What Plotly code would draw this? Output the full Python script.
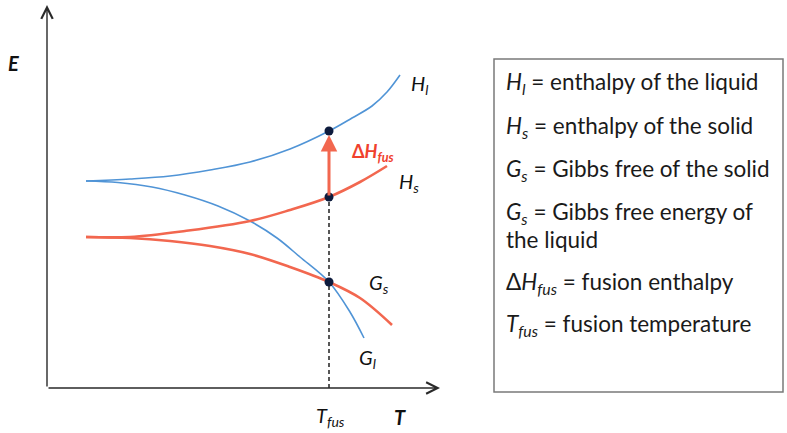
import plotly.graph_objects as go

# ---- data (schematic; T and E in arbitrary units) ----
T_hl = [39, 83, 123, 163, 203, 243, 282, 305, 325, 340, 353]
E_hl = [207, 209, 212, 218, 226, 239, 257, 270, 282, 296, 313]

T_gl = [39, 71, 105, 138, 171, 203, 230, 253, 282, 303, 317]
E_gl = [207, 205.5, 201, 193, 182, 167, 150, 131, 106, 76, 50]

T_hs = [39, 83, 138, 203, 243, 282, 313, 340]
E_hs = [151, 151, 157, 167, 178, 191, 206, 222]

T_gs = [39, 83, 123, 163, 203, 243, 282, 313, 345]
E_gs = [151, 150, 147, 142, 134, 121, 106, 90, 63]

T_fus = 282
E_hl_fus = 257
E_hs_fus = 191
E_g_fus = 106

legend_lines = [
    "<i>H<sub>l</sub></i> = enthalpy of the liquid",
    "<i>H<sub>s</sub></i> = enthalpy of the solid",
    "<i>G<sub>s</sub></i> = Gibbs free of the solid",
    "<i>G<sub>s</sub></i> = Gibbs free energy of",
    "the liquid",
    "\u0394<i>H<sub>fus</sub></i> = fusion enthalpy",
    "<i>T<sub>fus</sub></i> = fusion temperature",
]
legend_y_px = [83, 127, 170, 213, 240, 283, 325]

BLUE = "#5094d6"
RED = "#f2674f"
DOT = "#0d1b3d"
FONT = "Lato"

fig = go.Figure()

for tx, ey, col, w in [(T_hl, E_hl, BLUE, 1.6), (T_gl, E_gl, BLUE, 1.6),
                       (T_hs, E_hs, RED, 2.6), (T_gs, E_gs, RED, 2.6)]:
    fig.add_trace(go.Scatter(x=tx, y=ey, mode="lines",
                             line=dict(color=col, width=w, shape="spline", smoothing=1.0)))

# dashed vertical at T_fus
fig.add_trace(go.Scatter(x=[T_fus, T_fus], y=[0, E_hs_fus], mode="lines",
                         line=dict(color="#111111", width=1.4, dash="4px,3px")))

# dots
fig.add_trace(go.Scatter(x=[T_fus] * 3, y=[E_hl_fus, E_hs_fus, E_g_fus], mode="markers",
                         marker=dict(color=DOT, size=9)))

annotations = []
# axes arrows
annotations.append(dict(x=0, y=383, ax=0, ay=0, xref="x", yref="y", axref="x", ayref="y",
                        text="", showarrow=True, arrowhead=5, arrowsize=1.6, arrowwidth=1.4,
                        arrowcolor="#2a2a2a", standoff=0))
annotations.append(dict(x=393, y=0, ax=0, ay=0, xref="x", yref="y", axref="x", ayref="y",
                        text="", showarrow=True, arrowhead=5, arrowsize=1.6, arrowwidth=1.4,
                        arrowcolor="#2a2a2a", standoff=0))
# delta H arrow
annotations.append(dict(x=T_fus, y=E_hl_fus, ax=T_fus, ay=E_hs_fus, xref="x", yref="y",
                        axref="x", ayref="y", text="", showarrow=True, arrowhead=2,
                        arrowsize=1.1, arrowwidth=3, arrowcolor=RED, standoff=4))


def lab(px, py, text, color="#111111", size=20):
    annotations.append(dict(x=px - 47, y=388 - py, xref="x", yref="y", text=text,
                            showarrow=False, font=dict(family=FONT, size=size, color=color)))


lab(419, 84, "<i>H<sub>l</sub></i>")
lab(373, 152, "<b>\u0394<i>H<sub>fus</sub></i></b>", color="#f0412d", size=18)
lab(409, 182, "<i>H<sub>s</sub></i>")
lab(379, 283, "<i>G<sub>s</sub></i>")
lab(367, 358, "<i>G<sub>l</sub></i>")
lab(330, 416, "<i>T<sub>fus</sub></i>")
lab(400, 417, "<b><i>T</i></b>", size=20)
lab(13, 63, "<b><i>E</i></b>", size=20)

for txt, py in zip(legend_lines, legend_y_px):
    annotations.append(dict(x=504 / 787, y=1 - py / 433, xref="paper", yref="paper",
                            xanchor="left", yanchor="middle", text=txt, showarrow=False,
                            font=dict(family=FONT, size=22.5, color="#1a1a1a")))

fig.update_layout(
    width=787, height=433,
    margin=dict(l=0, r=0, t=0, b=0),
    paper_bgcolor="white", plot_bgcolor="white",
    showlegend=False,
    xaxis=dict(range=[-47, 740], visible=False, fixedrange=True),
    yaxis=dict(range=[-45, 388], visible=False, fixedrange=True),
    annotations=annotations,
    shapes=[dict(type="rect", xref="paper", yref="paper",
                 x0=494 / 787, x1=783 / 787, y0=1 - 392 / 433, y1=1 - 59 / 433,
                 line=dict(color="#7a7a7a", width=1.5))],
)

fig.write_html("out.html", config={"displayModeBar": False},
               post_script="document.body.style.margin='0';document.body.style.overflow='hidden';")
